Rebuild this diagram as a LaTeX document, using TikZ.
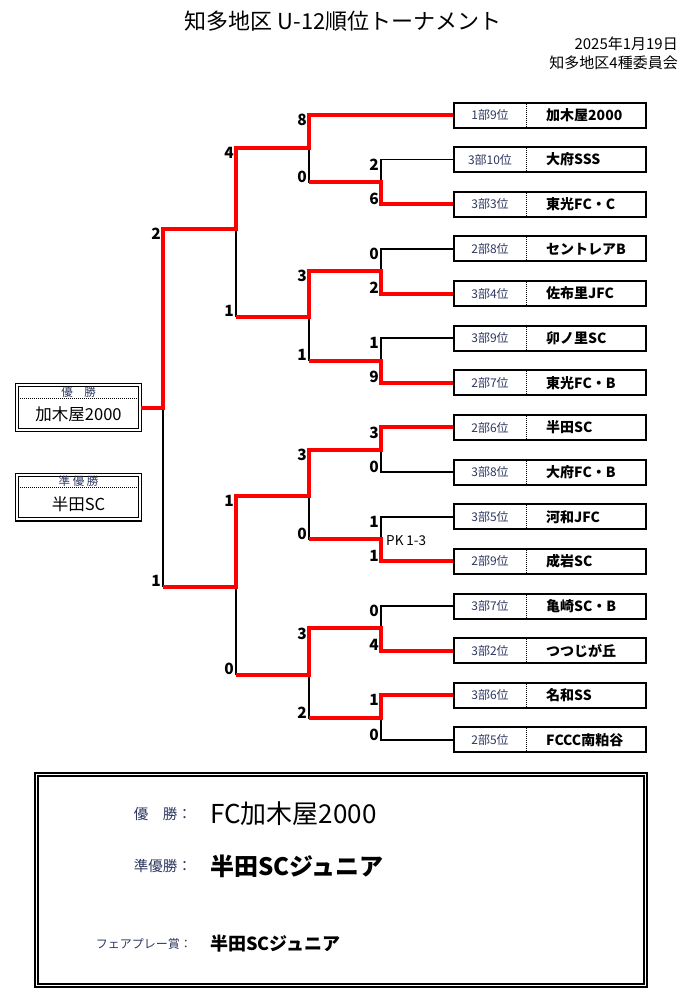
\documentclass[tikz,border=0pt]{standalone}
\usepackage{fontspec}
\setmainfont{Noto Sans CJK JP}
\usetikzlibrary{calc}
\definecolor{rankblue}{RGB}{45,55,95}
\tikzset{teambox/.style={draw,line width=2pt,minimum width=192pt,minimum height=25pt,inner sep=0pt},
         rank/.style={font=\fontsize{12}{13}\selectfont,text=rankblue,inner sep=0pt},
         teamname/.style={font=\fontsize{14}{16}\selectfont\bfseries,anchor=west,inner sep=0pt},
         sep/.style={line width=1pt,dash pattern=on 1pt off 1pt},
         lose/.style={line width=1.6pt},
         win/.style={line width=4pt,red},
         score/.style={font=\fontsize{15.5}{17}\selectfont\bfseries,inner sep=0pt},
         sctop/.style={score,anchor=north east,xshift=-2pt,yshift=1pt},
         scbot/.style={score,anchor=south east,xshift=-2pt,yshift=-0.5pt},
         resultbox/.style={draw,line width=1.3pt,double,double distance=1.8pt,minimum width=123pt,minimum height=44.6pt},
         boxlabel/.style={font=\fontsize{11.5}{13}\selectfont,text=rankblue,inner sep=0pt},
         sumlabel/.style={font=\fontsize{14.5}{16}\selectfont,text=rankblue,anchor=east,inner sep=0pt}}

\begin{document}
\begin{tikzpicture}[x=1pt,y=-1pt]
                  \useasboundingbox (0,0) rectangle (688,998);
                  % heading
                  \node[font=\fontsize{22}{25}\selectfont] (title) at (343,21) {知多地区 U-12順位トーナメント};
                  \node[font=\fontsize{15}{17}\selectfont,anchor=east,inner sep=0pt] (date) at (678,44) {2025年1月19日};
                  \node[font=\fontsize{15}{17}\selectfont,anchor=east,inner sep=0pt] (org) at (678,63) {知多地区4種委員会};
                  % teams
                  \foreach \i/\r/\n in {1/1部9位/加木屋2000, 2/3部10位/大府SSS, 3/3部3位/東光FC・C,
                                        4/2部8位/セントレアB, 5/3部4位/佐布里JFC, 6/3部9位/卯ノ里SC,
                                        7/2部7位/東光FC・B, 8/2部6位/半田SC, 9/3部8位/大府FC・B,
                                        10/3部5位/河和JFC, 11/2部9位/成岩SC, 12/3部7位/亀崎SC・B,
                                        13/3部2位/つつじが丘, 14/3部6位/名和SS, 15/2部5位/FCCC南粕谷}{
                    \node[teambox] (t\i) at (550,{115+(\i-1)*44.64}) {};
                    \node[rank] (r\i) at ($(t\i.center)+(-60,0)$) {\r};
                    \node[teamname] (n\i) at ($(t\i.center)+(-4,0)$) {\n};
                    \draw[sep] ($(t\i.north)+(-24,0)$) -- ($(t\i.south)+(-24,0)$);
                  }
                  % joints
                  \coordinate (a) at (381,181.95);
                  \coordinate (b) at (381,271.25);
                  \coordinate (c) at (381,360.55);
                  \coordinate (d) at (381,449.8);
                  \coordinate (e) at (381,539.1);
                  \coordinate (f) at (381,628.4);
                  \coordinate (g) at (381,717.7);
                  \coordinate (m1) at (309,148);
                  \coordinate (m2) at (309,316.5);
                  \coordinate (m3) at (309,496);
                  \coordinate (m4) at (309,674.5);
                  \coordinate (s1) at (236,228.5);
                  \coordinate (s2) at (236,586.5);
                  \coordinate (fin) at (163,408);
                  % champion boxes
                  \node[resultbox] (champ) at (78.5,407.5) {};
                  \draw[sep] ($(champ.west)+(3.5,-9.5)$) -- ($(champ.east)+(-3.5,-9.5)$);
                  \node[boxlabel] (champlbl) at (78.5,392.5) {優　勝};
                  \node[font=\fontsize{16.5}{18}\selectfont,inner sep=0pt] (champname) at (78.5,414) {加木屋2000};
                  \node[resultbox] (runner) at (78.5,497) {};
                  \draw[sep] ($(runner.west)+(3.5,-10)$) -- ($(runner.east)+(-3.5,-10)$);
                  \node[boxlabel] (runnerlbl) at (78.5,481.5) {準 優 勝};
                  \node[font=\fontsize{16.5}{18}\selectfont,inner sep=0pt] (runnername) at (78.5,504) {半田SC};
                  % bracket
                  \draw[lose] (t2.west) -| (a);   \draw[lose] (t3.west) -| (a);
                  \draw[lose] (t4.west) -| (b);   \draw[lose] (t5.west) -| (b);
                  \draw[lose] (t6.west) -| (c);   \draw[lose] (t7.west) -| (c);
                  \draw[lose] (t8.west) -| (d);   \draw[lose] (t9.west) -| (d);
                  \draw[lose] (t10.west) -| (e);  \draw[lose] (t11.west) -| (e);
                  \draw[lose] (t12.west) -| (f);  \draw[lose] (t13.west) -| (f);
                  \draw[lose] (t14.west) -| (g);  \draw[lose] (t15.west) -| (g);
                  \draw[lose] (t1.west) -| (m1);  \draw[lose] (a) -| (m1);
                  \draw[lose] (b) -| (m2);        \draw[lose] (c) -| (m2);
                  \draw[lose] (d) -| (m3);        \draw[lose] (e) -| (m3);
                  \draw[lose] (f) -| (m4);        \draw[lose] (g) -| (m4);
                  \draw[lose] (m1) -| (s1);       \draw[lose] (m2) -| (s1);
                  \draw[lose] (m3) -| (s2);       \draw[lose] (m4) -| (s2);
                  \draw[lose] (s1) -| (fin);      \draw[lose] (s2) -| (fin);
                  % winners
                  \draw[win] (t1.west) -| (m1) -| (s1) -| (fin) -- (fin -| champ.east);
                  \draw[win] (t3.west) -| (a) -- (a -| m1);
                  \draw[win] (t5.west) -| (b) -| (m2) -- (m2 -| s1);
                  \draw[win] (t7.west) -| (c) -- (c -| m2);
                  \draw[win] (t8.west) -| (d) -| (m3) -| (s2) -- (s2 -| fin);
                  \draw[win] (t11.west) -| (e) -- (e -| m3);
                  \draw[win] (t13.west) -| (f) -| (m4) -- (m4 -| s2);
                  \draw[win] (t14.west) -| (g) -- (g -| m4);
                  % scores
                  \node[sctop] (sc-a1) at (a |- t2.west) {2};   \node[scbot] (sc-a2) at (a |- t3.west) {6};
                  \node[sctop] (sc-b1) at (b |- t4.west) {0};   \node[scbot] (sc-b2) at (b |- t5.west) {2};
                  \node[sctop] (sc-c1) at (c |- t6.west) {1};   \node[scbot] (sc-c2) at (c |- t7.west) {9};
                  \node[sctop] (sc-d1) at (d |- t8.west) {3};   \node[scbot] (sc-d2) at (d |- t9.west) {0};
                  \node[sctop] (sc-e1) at (e |- t10.west) {1};  \node[scbot] (sc-e2) at (e |- t11.west) {1};
                  \node[sctop] (sc-f1) at (f |- t12.west) {0};  \node[scbot] (sc-f2) at (f |- t13.west) {4};
                  \node[sctop] (sc-g1) at (g |- t14.west) {1};  \node[scbot] (sc-g2) at (g |- t15.west) {0};
                  \node[sctop] (sc-m11) at (m1 |- t1.west) {8}; \node[scbot] (sc-m12) at (m1 |- a) {0};
                  \node[sctop] (sc-m21) at (m2 |- b) {3};       \node[scbot] (sc-m22) at (m2 |- c) {1};
                  \node[sctop] (sc-m31) at (m3 |- d) {3};       \node[scbot] (sc-m32) at (m3 |- e) {0};
                  \node[sctop] (sc-m41) at (m4 |- f) {3};       \node[scbot] (sc-m42) at (m4 |- g) {2};
                  \node[sctop] (sc-s11) at (s1 |- m1) {4};      \node[scbot] (sc-s12) at (s1 |- m2) {1};
                  \node[sctop] (sc-s21) at (s2 |- m3) {1};      \node[scbot] (sc-s22) at (s2 |- m4) {0};
                  \node[sctop] (sc-f01) at (fin |- s1) {2};     \node[scbot] (sc-f02) at (fin |- s2) {1};
                  \node[font=\fontsize{13.5}{15}\selectfont,anchor=west,inner sep=0pt] (pk) at ($(e)+(5,2)$) {PK 1-3};
                  % summary
                  \node[draw,line width=1.3pt,double,double distance=1.6pt,minimum width=609pt,minimum height=211pt] (summary) at (341,880) {};
                  \node[sumlabel] (lbl1) at (192,814) {優　勝：};
                  \node[font=\fontsize{26}{29}\selectfont,anchor=west,inner sep=0pt] (win1) at (210,814) {FC加木屋2000};
                  \node[sumlabel] (lbl2) at (192,866) {準優勝：};
                  \node[font=\fontsize{24}{28}\selectfont\bfseries,anchor=west,inner sep=0pt] (win2) at (210,866) {半田SCジュニア};
                  \node[sumlabel,font=\fontsize{12}{14}\selectfont] (lbl3) at (192,944) {フェアプレー賞：};
                  \node[font=\fontsize{18}{20}\selectfont\bfseries,anchor=west,inner sep=0pt] (win3) at (210,944) {半田SCジュニア};
              \end{tikzpicture}
\end{document}
